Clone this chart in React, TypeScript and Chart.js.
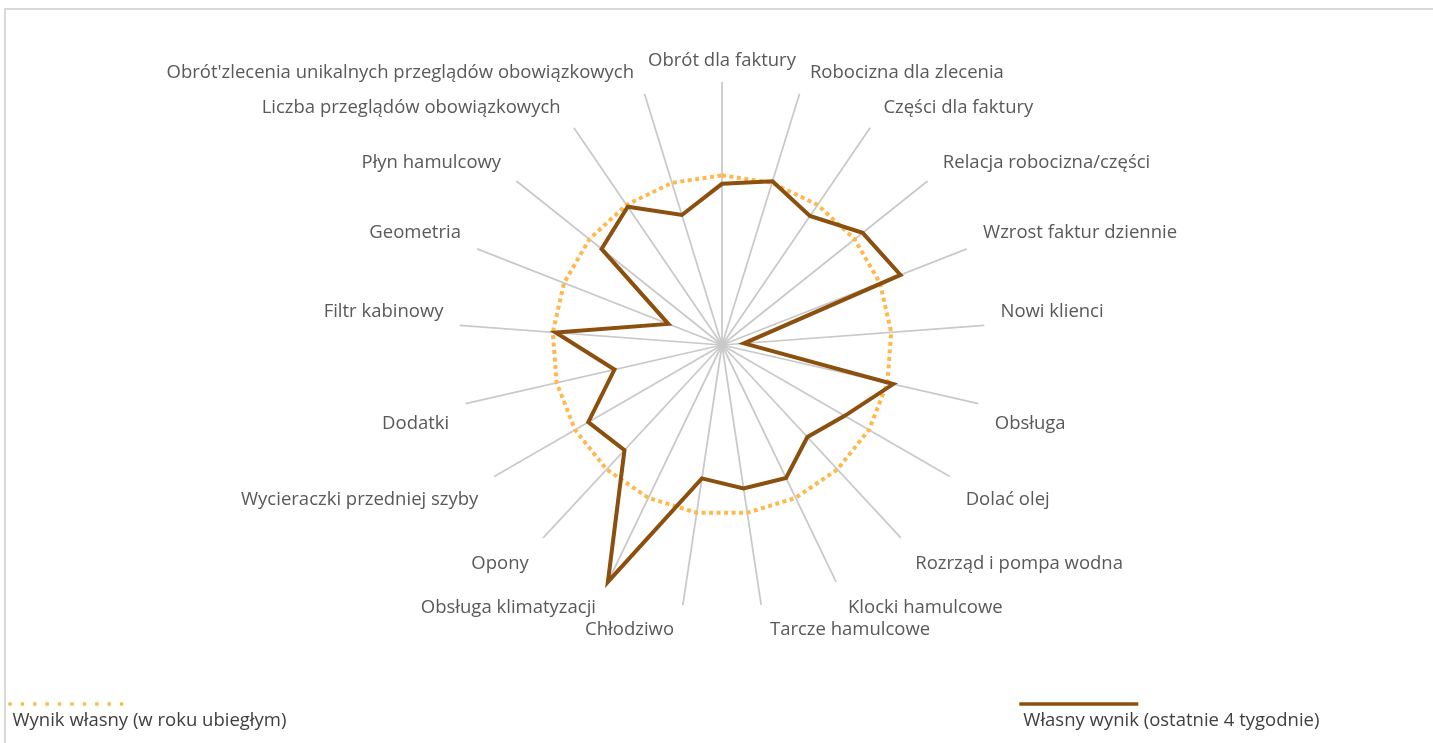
import React, { useEffect, useRef } from 'react';
import { Chart, registerables } from 'chart.js';

Chart.register(...registerables);

const categories: string[] = [
  'Obrót dla faktury',
  'Robocizna dla zlecenia',
  'Części dla faktury',
  'Relacja robocizna/części',
  'Wzrost faktur dziennie',
  'Nowi klienci',
  'Obsługa',
  'Dolać olej',
  'Rozrząd i pompa wodna',
  'Klocki hamulcowe',
  'Tarcze hamulcowe',
  'Chłodziwo',
  'Obsługa klimatyzacji',
  'Opony',
  'Wycieraczki przedniej szyby',
  'Dodatki',
  'Filtr kabinowy',
  'Geometria',
  'Płyn hamulcowy',
  'Liczba przeglądów obowiązkowych',
  "Obrót'zlecenia unikalnych przeglądów obowiązkowych",
];

const lastYearValues: number[] = [
  100, 100, 100, 100, 100, 100, 100, 100, 100, 100, 100,
  100, 100, 100, 100, 100, 100, 100, 100, 100, 100,
];

const last4WeeksValues: number[] = [
  95, 101, 92, 106, 113, 13, 103.5, 83.5, 74, 87, 85.5,
  79.5, 155, 84.5, 91, 65, 98.3, 34, 90.8, 98.6, 80.2,
];

const scaleMin = 0;
const scaleMax = 155;

const lastYearName = 'Wynik własny (w roku ubiegłym)';
const last4WeeksName = 'Własny wynik (ostatnie 4 tygodnie)';

const ORANGE = '#FFB84D';
const BROWN = '#8B4F0E';
const LABEL_COLOR = '#595959';
const FONT = "'Open Sans', 'DejaVu Sans', sans-serif";
const FONT_SIZE = 18.5;

// Category labels placed around the radial scale, Excel-style (slightly further out than Chart.js default)
const categoryLabels = {
  id: 'categoryLabels',
  afterDraw(chart: any) {
    const scale = chart.scales.r;
    const labels: string[] = chart.data.labels;
    const ctx = chart.ctx as CanvasRenderingContext2D;
    const lineH = FONT_SIZE * 1.2;
    ctx.save();
    ctx.font = `${FONT_SIZE}px ${FONT}`;
    ctx.fillStyle = LABEL_COLOR;
    ctx.textBaseline = 'middle';
    labels.forEach((text, i) => {
      const angleRad = scale.getIndexAngle(i);
      const deg = Math.round((angleRad * 180) / Math.PI) % 360;
      const pos = scale.getPointPosition(i, scale.drawingArea + 12);
      const cosA = Math.abs(Math.cos(angleRad));
      const dx = 4 + 3 * cosA;
      let x = pos.x;
      let align: CanvasTextAlign = 'center';
      if (deg === 0 || deg === 180) {
        align = 'center';
      } else if (deg < 180) {
        align = 'left';
        x += dx;
      } else {
        align = 'right';
        x -= dx;
      }
      let y: number;
      if (deg === 90 || deg === 270) {
        y = pos.y;
      } else if (deg < 90 || deg > 270) {
        y = pos.y - lineH / 2 + (3 * cosA - 1.5);
      } else {
        const t = Math.min(1, Math.max(0, (cosA - 0.75) / 0.25));
        y = pos.y + lineH / 2 + (6 - 4 * t);
      }
      ctx.textAlign = align;
      ctx.fillText(text, x, y);
    });
    ctx.restore();
  },
};

const bottomLegend = {
  id: 'bottomLegend',
  afterDraw(chart: any) {
    const ctx = chart.ctx as CanvasRenderingContext2D;
    ctx.save();
    ctx.fillStyle = ORANGE;
    for (let k = 0; k < 10; k++) {
      ctx.fillRect(2.3 + k * 12.4, 692.3, 3.4, 3.4);
    }
    ctx.strokeStyle = BROWN;
    ctx.lineWidth = 3.7;
    ctx.beginPath();
    ctx.moveTo(1013.3, 694);
    ctx.lineTo(1132.3, 694);
    ctx.stroke();

    ctx.fillStyle = '#404040';
    ctx.font = `${FONT_SIZE}px ${FONT}`;
    ctx.textAlign = 'left';
    ctx.textBaseline = 'alphabetic';
    ctx.fillText(lastYearName, 6.5, 716);
    ctx.fillText(last4WeeksName, 1017.3, 716);
    ctx.restore();
  },
};

export default function App() {
  const canvasRef = useRef<HTMLCanvasElement | null>(null);

  useEffect(() => {
    const canvas = canvasRef.current;
    if (!canvas) return;
    const chart = new Chart(canvas, {
      type: 'radar',
      data: {
        labels: categories,
        datasets: [
          {
            label: last4WeeksName,
            data: last4WeeksValues,
            borderColor: BROWN,
            backgroundColor: 'transparent',
            borderWidth: 4,
            fill: false,
            pointRadius: 0,
            pointHoverRadius: 0,
            tension: 0,
            borderJoinStyle: 'miter',
          },
          {
            label: lastYearName,
            data: lastYearValues,
            borderColor: ORANGE,
            backgroundColor: 'transparent',
            borderWidth: 4,
            borderDash: [4, 3.5],
            borderCapStyle: 'butt',
            fill: false,
            pointRadius: 0,
            pointHoverRadius: 0,
            tension: 0,
          },
        ],
      },
      options: {
        responsive: false,
        animation: false,
        layout: { padding: { top: 72, bottom: 135, left: 6, right: 0 } },
        plugins: {
          legend: { display: false },
          tooltip: { enabled: false },
        },
        scales: {
          r: {
            min: scaleMin,
            max: scaleMax,
            beginAtZero: true,
            grid: { display: false },
            ticks: { display: false },
            angleLines: { display: true, color: '#C9C9C9', lineWidth: 1.75 },
            pointLabels: { display: false },
          },
        },
      },
      plugins: [categoryLabels, bottomLegend],
    });
    return () => chart.destroy();
  }, []);

  return (
    <div
      style={{
        position: 'absolute',
        left: 4,
        top: 8,
        width: 1429,
        height: 735,
        boxSizing: 'border-box',
        borderTop: '2px solid #D9D9D9',
        borderLeft: '2px solid #D9D9D9',
        background: '#FFFFFF',
      }}
    >
      <canvas ref={canvasRef} width={1427} height={733} style={{ display: 'block' }} />
    </div>
  );
}
